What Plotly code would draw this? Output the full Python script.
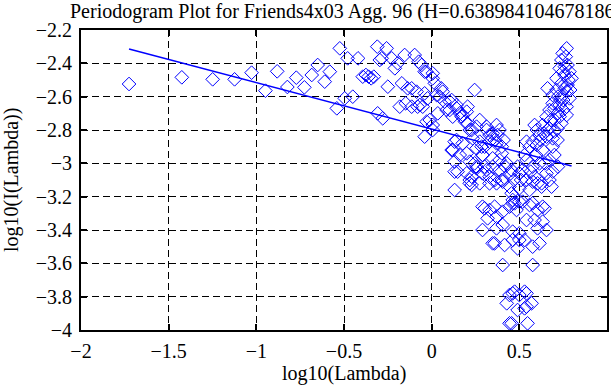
import plotly.graph_objects as go

# ---- data ----
log_lambda = [
    -1.726, -1.425, -1.249, -1.124, -1.027, -0.948, -0.881, -0.823, -0.772, -0.726, -0.684, -0.650,
    -0.610, -0.581, -0.541, -0.524, -0.496, -0.479, -0.450, -0.420, -0.393, -0.375, -0.360, -0.345,
    -0.330, -0.310, -0.308, -0.296, -0.285, -0.279, -0.257, -0.250, -0.228, -0.210, -0.194, -0.182,
    -0.170, -0.154, -0.148, -0.137, -0.114, -0.114, -0.097, -0.086, -0.080, -0.074, -0.068, -0.057,
    -0.051, -0.040, -0.040, -0.040, -0.030, -0.029, -0.023, -0.011, 0.006, 0.006, 0.006, 0.006,
    0.018, 0.028, 0.035, 0.046, 0.055, 0.063, 0.074, 0.085, 0.103, 0.103, 0.114, 0.120,
    0.131, 0.142, 0.142, 0.142, 0.160, 0.171, 0.177, 0.177, 0.190, 0.200, 0.205, 0.205,
    0.217, 0.228, 0.234, 0.245, 0.256, 0.256, 0.274, 0.274, 0.285, 0.290, 0.302, 0.313,
    0.313, 0.330, 0.330, 0.348, 0.360, 0.370, 0.370, 0.376, 0.387, 0.400, 0.410,
    0.114, 0.120, 0.131, 0.131, 0.131, 0.148, 0.160, 0.200, 0.200, 0.217, 0.217, 0.217,
    0.228, 0.228, 0.245, 0.256, 0.256, 0.274, 0.290, 0.290, 0.302, 0.313, 0.330, 0.330,
    0.348, 0.348, 0.360, 0.370, 0.387, 0.387, 0.400, 0.400, 0.405, 0.420, 0.428, 0.444,
    0.450, 0.456, 0.456, 0.462, 0.470, 0.484, 0.490, 0.500, 0.500, 0.510,
    0.290, 0.290, 0.302, 0.319, 0.330, 0.348, 0.359, 0.359, 0.370, 0.370, 0.405, 0.405,
    0.405, 0.416, 0.428, 0.444, 0.444, 0.444, 0.456, 0.462, 0.462, 0.462, 0.462, 0.473,
    0.473, 0.490, 0.490, 0.500, 0.500, 0.500, 0.500, 0.519, 0.530, 0.530, 0.530, 0.541,
    0.541, 0.541, 0.547, 0.558, 0.570, 0.576, 0.576, 0.576, 0.587, 0.604, 0.604, 0.615,
    0.633, 0.633, 0.644, 0.655,
    0.519, 0.530, 0.541, 0.541, 0.541, 0.558, 0.558, 0.565, 0.576, 0.576, 0.576, 0.587,
    0.595, 0.604, 0.615, 0.615, 0.627, 0.627, 0.633, 0.645, 0.655, 0.655, 0.672, 0.672,
    0.684, 0.690, 0.690, 0.690, 0.700, 0.718, 0.720,
    0.587, 0.600, 0.633, 0.655, 0.661, 0.672, 0.672, 0.690, 0.690, 0.700, 0.712, 0.712,
    0.718, 0.718, 0.730, 0.730, 0.740, 0.740, 0.740, 0.740, 0.747, 0.758, 0.770, 0.770,
    0.770, 0.770, 0.775, 0.775, 0.786, 0.786, 0.798, 0.760, 0.750, 0.730, 0.760, 0.780,
    0.765, 0.750, 0.720, 0.700, 0.680, 0.660, 0.640, 0.620, 0.600, 0.700, 0.750, 0.790,
]
log_periodogram = [
    -2.524, -2.484, -2.496, -2.496, -2.456, -2.564, -2.448, -2.542, -2.486, -2.544, -2.470, -2.410,
    -2.510, -2.450, -2.670, -2.310, -2.610, -2.370, -2.600, -2.370, -2.480, -2.470, -2.480, -2.490,
    -2.480, -2.300, -2.700, -2.380, -2.370, -2.730, -2.310, -2.540, -2.370, -2.430, -2.400, -2.660,
    -2.520, -2.350, -2.640, -2.550, -2.660, -2.550, -2.350, -2.570, -2.660, -2.390, -2.650, -2.410,
    -2.660, -2.450, -2.580, -2.840, -2.450, -2.750, -2.610, -2.740, -2.460, -2.490, -2.770, -2.800,
    -2.520, -2.590, -2.700, -2.600, -2.550, -2.570, -2.630, -2.680, -2.630, -2.680, -2.620, -2.720,
    -2.870, -2.650, -2.670, -2.860, -2.700, -2.720, -2.710, -2.880, -2.750, -2.690, -2.660, -2.760,
    -2.800, -2.800, -2.850, -2.560, -2.780, -2.910, -2.740, -2.870, -2.900, -2.950, -2.900, -2.780,
    -2.800, -2.830, -2.870, -2.820, -2.860, -2.770, -2.880, -2.830, -2.800, -2.900, -2.860,
    -2.920, -2.920, -2.990, -3.050, -3.160, -3.050, -2.950, -2.940, -3.060, -2.990, -3.100, -3.120,
    -3.080, -3.130, -3.000, -3.020, -3.030, -3.120, -2.950, -3.060, -3.020, -3.040, -3.080, -3.120,
    -2.970, -3.020, -3.100, -3.120, -2.980, -3.040, -2.940, -3.100, -3.110, -3.020, -3.000, -3.140,
    -3.060, -3.040, -3.180, -3.220, -3.100, -3.280, -3.020, -3.060, -3.150, -3.100,
    -3.260, -3.400, -3.270, -3.330, -3.280, -3.480, -3.260, -3.480, -3.320, -3.390, -3.290, -3.370,
    -3.610, -3.490, -3.840, -3.260, -3.790, -3.960, -3.960, -3.240, -3.410, -3.460, -3.780, -3.240,
    -3.770, -3.510, -3.880, -3.230, -3.420, -3.460, -3.790, -3.230, -3.460, -3.770, -3.870, -3.340,
    -3.780, -3.860, -3.960, -3.250, -3.840, -3.240, -3.500, -3.610, -3.340, -3.280, -3.390, -3.480,
    -3.260, -3.350, -3.270, -3.400,
    -3.040, -2.950, -2.980, -3.100, -2.870, -2.900, -3.160, -3.050, -3.020, -3.110, -2.870, -3.080,
    -2.950, -3.120, -3.000, -2.830, -3.120, -3.140, -2.920, -3.000, -3.060, -2.840, -2.980, -3.100,
    -3.140, -2.900, -3.050, -2.850, -2.950, -2.860, -3.020,
    -2.770, -2.800, -2.770, -2.720, -2.550, -2.680, -2.790, -2.590, -2.640, -2.740, -2.490, -2.560,
    -2.700, -2.790, -2.430, -2.650, -2.380, -2.520, -2.600, -2.760, -2.340, -2.470, -2.310, -2.570,
    -2.660, -2.710, -2.410, -2.530, -2.450, -2.610, -2.490, -2.550, -2.620, -2.720, -2.420, -2.500,
    -2.360, -2.450, -2.600, -2.670, -2.740, -2.800, -2.820, -2.860, -2.890, -2.810, -2.680, -2.560,
]
fit_x = [-1.726, 0.798]
fit_y = [-2.314, -3.016]

x_ticks = [-2, -1.5, -1, -0.5, 0, 0.5, 1]
x_labels = ["\u22122", "\u22121.5", "\u22121", "\u22120.5", "0", "0.5", "1"]
y_ticks = [-4, -3.8, -3.6, -3.4, -3.2, -3, -2.8, -2.6, -2.4, -2.2]
y_labels = ["\u22124", "\u22123.8", "\u22123.6", "\u22123.4", "\u22123.2", "\u22123",
            "\u22122.8", "\u22122.6", "\u22122.4", "\u22122.2"]

title_text = "Periodogram Plot for Friends4x03 Agg. 96 (H=0.638984104678186)"

FONT = "Liberation Serif, Times New Roman, serif"
BLUE = "#0000ff"

fig = go.Figure()
fig.add_trace(go.Scatter(
    x=log_lambda, y=log_periodogram, mode="markers",
    marker=dict(symbol="diamond-open", size=10.5, color=BLUE, line=dict(width=1, color=BLUE)),
    showlegend=False, hoverinfo="skip",
))
fig.add_trace(go.Scatter(
    x=fit_x, y=fit_y, mode="lines",
    line=dict(color=BLUE, width=1.5),
    showlegend=False, hoverinfo="skip",
))

axis_common = dict(
    showline=True, linewidth=2, linecolor="black", mirror="allticks",
    ticks="inside", ticklen=6, tickwidth=2, tickcolor="black",
    showgrid=True, gridcolor="black", gridwidth=1, griddash="7px,4px",
    zeroline=False, automargin=False,
    tickfont=dict(family=FONT, size=20, color="black"),
)

fig.update_layout(
    width=611, height=385,
    margin=dict(l=81, r=4, t=30, b=55),
    paper_bgcolor="white", plot_bgcolor="white",
    font=dict(family=FONT, size=20, color="black"),
    xaxis=dict(range=[-2, 1], tickvals=x_ticks, ticktext=x_labels,
               ticklabelstandoff=2, **axis_common),
    yaxis=dict(range=[-4, -2.2], tickvals=y_ticks, ticktext=y_labels,
               ticklabelstandoff=3, **axis_common),
    annotations=[
        dict(text="log10(Lambda)", xref="paper", yref="paper", x=0.5, y=0,
             yshift=-43, xanchor="center", yanchor="middle", showarrow=False,
             font=dict(family=FONT, size=20, color="black")),
        dict(text="log10(I(Lambda))", xref="paper", yref="paper", x=0, y=0.5,
             xshift=-70, xanchor="center", yanchor="middle", textangle=-90, showarrow=False,
             font=dict(family=FONT, size=20, color="black")),
        dict(text=title_text, xref="paper", yref="paper", x=0, y=1,
             xshift=-13, yshift=19, xanchor="left", yanchor="middle", showarrow=False,
             font=dict(family=FONT, size=20, color="black")),
    ],
)

fig.write_html("out.html", config={"displayModeBar": False},
               post_script="document.body.style.margin='0';")
